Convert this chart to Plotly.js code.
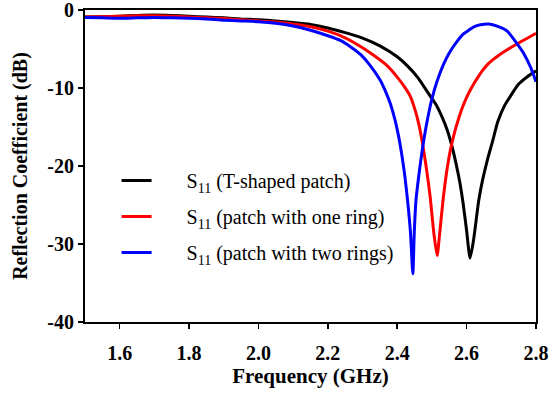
<!DOCTYPE html>
<html>
<head>
<meta charset="utf-8">
<script src="https://cdn.plot.ly/plotly-3.0.1.min.js"></script>
<style>html,body{margin:0;padding:0;background:#fff;}#plot{width:549px;height:394px;}</style>
</head>
<body>
<div id="plot"></div>
<script>
// T-shaped patch (black)
var freqT = [1.50,1.55,1.60,1.65,1.70,1.75,1.80,1.85,1.90,1.95,2.00,2.05,2.10,2.15,2.20,2.25,2.30,2.35,2.40,2.43,2.46,2.49,2.51,2.53,2.545,2.558,2.57,2.58,2.59,2.60,2.61,2.62,2.635,2.645,2.66,2.675,2.69,2.71,2.727,2.75,2.775,2.80];
var s11T  = [-0.9,-0.85,-0.8,-0.7,-0.65,-0.7,-0.8,-0.9,-1.0,-1.15,-1.25,-1.4,-1.6,-1.85,-2.3,-2.9,-3.6,-4.6,-6.0,-7.2,-8.7,-10.7,-12.0,-13.8,-15.5,-17.5,-19.8,-22.0,-24.8,-28.3,-31.8,-29.5,-24.4,-22.0,-19.2,-16.8,-14.3,-12.2,-11.0,-9.5,-8.55,-7.8];
// Patch with one ring (red)
var freqR = [1.50,1.55,1.60,1.65,1.70,1.75,1.80,1.85,1.90,1.95,2.00,2.05,2.10,2.15,2.20,2.236,2.28,2.332,2.37,2.40,2.42,2.438,2.452,2.462,2.472,2.483,2.495,2.505,2.515,2.522,2.532,2.544,2.553,2.564,2.575,2.587,2.60,2.615,2.63,2.645,2.66,2.675,2.69,2.71,2.73,2.755,2.78,2.80];
var s11R  = [-0.9,-0.85,-0.8,-0.75,-0.75,-0.8,-0.9,-1.0,-1.1,-1.25,-1.4,-1.55,-1.8,-2.15,-2.7,-3.3,-4.3,-5.8,-7.1,-8.6,-9.8,-11.1,-12.9,-14.6,-16.9,-20.0,-24.0,-28.4,-31.5,-28.8,-24.4,-20.3,-18.0,-15.9,-14.2,-12.6,-11.2,-9.9,-8.8,-7.8,-7.0,-6.4,-5.9,-5.3,-4.75,-4.1,-3.5,-3.0];
// Patch with two rings (blue)
var freqB = [1.50,1.55,1.60,1.65,1.70,1.75,1.80,1.85,1.90,1.95,2.00,2.05,2.10,2.15,2.20,2.236,2.265,2.294,2.32,2.351,2.365,2.38,2.393,2.404,2.414,2.422,2.43,2.438,2.445,2.449,2.454,2.462,2.467,2.474,2.481,2.49,2.50,2.515,2.534,2.55,2.573,2.59,2.606,2.621,2.64,2.664,2.69,2.717,2.74,2.765,2.785,2.80];
var s11B  = [-0.95,-1.0,-1.05,-1.0,-0.95,-1.0,-1.05,-1.15,-1.3,-1.4,-1.5,-1.7,-2.05,-2.6,-3.3,-3.9,-4.7,-5.7,-7.0,-9.0,-10.3,-12.0,-14.0,-16.2,-18.8,-21.3,-24.5,-28.4,-33.8,-28.6,-24.4,-21.3,-19.6,-17.4,-15.5,-13.4,-11.4,-9.1,-6.9,-5.5,-4.0,-3.1,-2.6,-2.15,-1.9,-1.8,-2.1,-2.7,-4.0,-5.6,-7.4,-9.2];

var names = ["S<sub>11</sub> (T-shaped patch)", "S<sub>11</sub> (patch with one ring)", "S<sub>11</sub> (patch with two rings)"];
var xTickVals = [1.6,1.8,2.0,2.2,2.4,2.6,2.8];
var xTickText = ["1.6","1.8","2.0","2.2","2.4","2.6","2.8"];
var yTickVals = [0,-10,-20,-30,-40];
var yTickText = ["0","-10","-20","-30","-40"];

var pad = "\u00a0\u00a0\u00a0\u00a0\u00a0\u00a0";
var lineShape = {width: 3, shape: "spline", smoothing: 0.6};
var traces = [
  {x: freqT, y: s11T, name: pad + names[0], legendgroup: "a", mode: "lines", line: Object.assign({color: "#000000"}, lineShape)},
  {x: freqR, y: s11R, name: pad + names[1], legendgroup: "b", mode: "lines", line: Object.assign({color: "#ff0000"}, lineShape)},
  {x: freqB, y: s11B, name: pad + names[2], legendgroup: "c", mode: "lines", line: Object.assign({color: "#0000ff"}, lineShape)}
];

var font = "'Times New Roman', 'Liberation Serif', Times, serif";
var layout = {
  width: 549, height: 394,
  margin: {l: 85, r: 13, t: 10, b: 72},
  paper_bgcolor: "#fff", plot_bgcolor: "#fff",
  font: {family: font, color: "#000"},
  showlegend: true,
  legend: {x: 0.07, y: 0.516, xanchor: "left", yanchor: "top", bgcolor: "rgba(0,0,0,0)", font: {family: font, size: 20, color: "#000"}, tracegroupgap: 7},
  xaxis: {
    range: [1.5, 2.8], tickvals: xTickVals, ticktext: xTickText,
    showline: true, mirror: true, linecolor: "#000", linewidth: 2,
    ticks: "outside", ticklen: 5, tickwidth: 1.5, tickcolor: "#000",
    showgrid: false, zeroline: false, ticklabelstandoff: 7, ticklabeloverflow: "allow",
    tickfont: {family: font, size: 20, color: "#000", weight: "bold"},
    title: {text: "<b>Frequency (GHz)</b>", font: {family: font, size: 21, color: "#000"}, standoff: 5}
  },
  yaxis: {
    range: [-40, 0], tickvals: yTickVals, ticktext: yTickText,
    showline: true, mirror: true, linecolor: "#000", linewidth: 2,
    ticks: "outside", ticklen: 5, tickwidth: 1.5, tickcolor: "#000",
    showgrid: false, zeroline: false, ticklabeloverflow: "allow",
    tickfont: {family: font, size: 20, color: "#000", weight: "bold"},
    title: {text: "<b>Reflection Coefficient (dB)</b>", font: {family: font, size: 20, color: "#000"}, standoff: 14}
  }
};

Plotly.newPlot("plot", traces, layout, {staticPlot: true, displayModeBar: false});
</script>
</body>
</html>
